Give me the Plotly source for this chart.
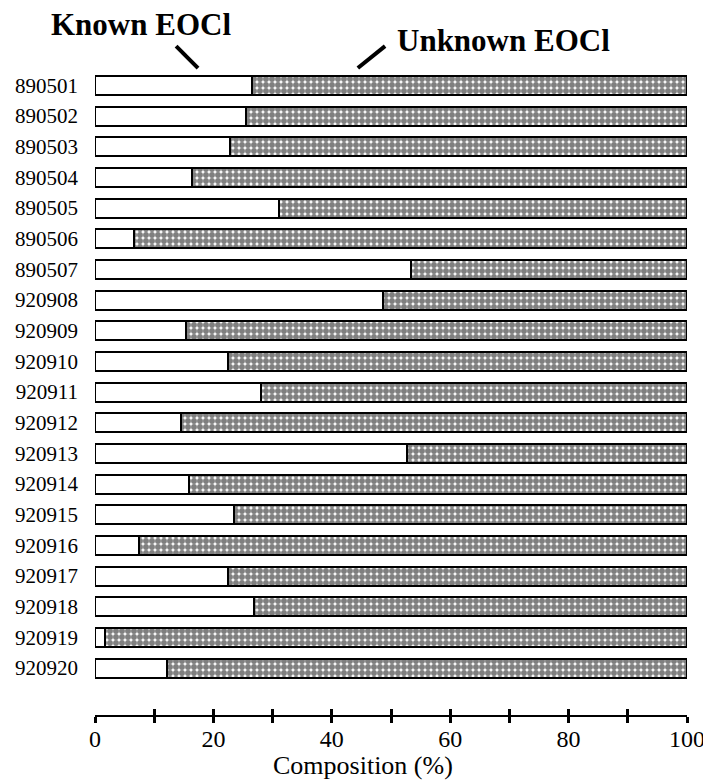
import plotly.graph_objects as go

samples = ["890501", "890502", "890503", "890504", "890505", "890506", "890507",
           "920908", "920909", "920910", "920911", "920912", "920913", "920914",
           "920915", "920916", "920917", "920918", "920919", "920920"]
known = [26.5, 25.5, 22.8, 16.4, 31.1, 6.6, 53.4,
         48.6, 15.4, 22.5, 28.0, 14.5, 52.7, 15.9,
         23.5, 7.4, 22.5, 26.9, 1.7, 12.2]
unknown = [round(100 - k, 1) for k in known]
x_ticks = [0, 20, 40, 60, 80, 100]

serif = "Liberation Serif, Times New Roman, serif"

fig = go.Figure()
fig.add_trace(go.Bar(
    y=samples, x=known, orientation="h", name="Known EOCl",
    marker=dict(color="white", line=dict(color="black", width=2)),
    width=0.62,
))
fig.add_trace(go.Bar(
    y=samples, x=unknown, orientation="h", name="Unknown EOCl",
    marker=dict(color="white", line=dict(color="black", width=2),
                pattern=dict(shape=".", fgcolor="black", bgcolor="white",
                             size=6, solidity=0.75)),
    width=0.62,
))
# invisible trace to drive second (overlaid) x axis for inward ticks
fig.add_trace(go.Scatter(x=[0, 100], y=[samples[0], samples[0]], xaxis="x2",
                         mode="markers", marker=dict(opacity=0), showlegend=False,
                         hoverinfo="skip"))

# page body adds an 8px margin, so the figure is 8px smaller on each axis
fig.update_layout(
    width=703, height=772,
    barmode="stack",
    showlegend=False,
    plot_bgcolor="white", paper_bgcolor="white",
    margin=dict(l=87, r=24, t=62, b=65, autoexpand=False),
    font=dict(family=serif, color="black"),
    xaxis=dict(range=[0, 100], tickvals=list(range(0, 101, 10)),
               ticktext=[str(v) if v in x_ticks else "" for v in range(0, 101, 10)],
               ticks="outside", ticklen=6, tickwidth=3, tickcolor="black",
               showline=True, linecolor="black", linewidth=2,
               showgrid=False, zeroline=False, automargin=False,
               ticklabelstandoff=-5,
               tickfont=dict(size=24, family=serif)),
    xaxis2=dict(range=[0, 100], overlaying="x", side="bottom", anchor="y",
                tickvals=list(range(0, 101, 10)), showticklabels=False,
                ticks="inside", ticklen=6, tickwidth=3, tickcolor="black",
                showline=False, showgrid=False, zeroline=False, automargin=False),
    yaxis=dict(categoryorder="array", categoryarray=samples,
               range=[20.53, -0.5], showgrid=False, zeroline=False, showline=False,
               ticks="", ticklabelstandoff=16, automargin=False,
               tickfont=dict(size=21, family=serif)),
)

fig.add_annotation(text="Composition (%)", xref="paper", yref="paper",
                   x=0.453, y=-0.079, xanchor="center", yanchor="middle",
                   showarrow=False, font=dict(size=26, family=serif))

fig.add_annotation(text="<b>Known EOCl</b>", xref="paper", yref="paper",
                   x=-0.078, y=1.071, xanchor="left", yanchor="middle",
                   showarrow=False, font=dict(size=31, family=serif))
fig.add_annotation(text="<b>Unknown EOCl</b>", xref="paper", yref="paper",
                   x=0.507, y=1.0465, xanchor="left", yanchor="middle",
                   showarrow=False, font=dict(size=31, family=serif))

# leader lines
fig.add_shape(type="line", xref="x", yref="paper", x0=13.7, x1=17.4, y0=1.037, y1=1.003,
              line=dict(color="black", width=4))
fig.add_shape(type="line", xref="x", yref="paper", x0=44.4, x1=49.0, y0=1.003, y1=1.037,
              line=dict(color="black", width=4))

fig.write_html("out.html")
